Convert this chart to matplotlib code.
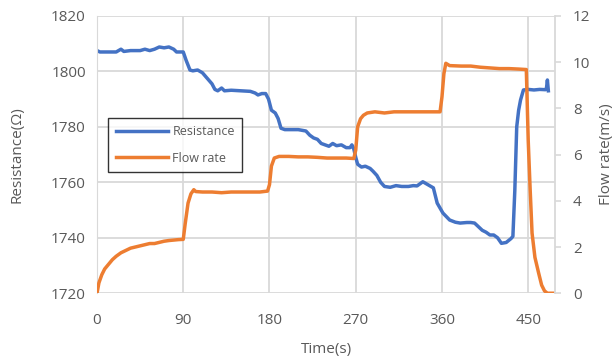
import numpy as np
import matplotlib.pyplot as plt

plt.rcParams['font.family'] = ['Open Sans', 'DejaVu Sans']

# Resistance (Ohm) vs time (s)
t_res = [0, 3, 10, 20, 25, 28, 35, 45, 50, 55, 60, 65, 70, 75, 80, 83, 90, 93, 97,
         100, 105, 110, 115, 120, 123, 126, 130, 133, 140, 150, 160, 165, 168, 172,
         176, 179, 182, 186, 189, 192, 196, 200, 210, 218, 222, 226, 230, 234, 238,
         242, 246, 250, 255, 260, 264, 266, 268, 270, 272, 276, 280, 285, 288, 292,
         296, 300, 306, 312, 318, 325, 330, 334, 340, 346, 351, 355, 361, 368, 374,
         379, 386, 390, 394, 398, 402, 406, 410, 414, 418, 422, 427, 432, 434, 436,
         438, 440, 442, 445, 450, 456, 462, 468, 469, 470, 471]
resistance = [1807.5, 1807, 1807, 1807, 1808, 1807.2, 1807.5, 1807.5, 1808, 1807.5,
              1808, 1808.8, 1808.5, 1808.8, 1808, 1807, 1807, 1804, 1800.5,
              1800.2, 1800.5, 1799.5, 1797.5, 1795.5, 1793.5, 1793, 1794, 1793,
              1793.2, 1793, 1792.8, 1792.2, 1791.5, 1792, 1792, 1790, 1786, 1785,
              1783, 1779.5, 1779, 1779, 1779, 1778.5, 1777, 1776, 1775.5, 1774,
              1773.5, 1773, 1774, 1773.2, 1773.5, 1772.5, 1772.5, 1773.5, 1772,
              1769, 1766.5, 1765.5, 1765.8, 1765, 1764, 1762.5, 1760, 1758.5,
              1758.2, 1758.8, 1758.5, 1758.5, 1758.8, 1758.7, 1760.2, 1759, 1758,
              1752.5, 1748.9, 1746.4, 1745.6, 1745.3, 1745.5, 1745.5, 1745.3,
              1744, 1742.7, 1742, 1741, 1741, 1740, 1738, 1738.3, 1739.7, 1740.5,
              1757, 1780, 1786, 1789.7, 1793.3, 1793.5, 1793.3, 1793.5, 1793.4,
              1793.8, 1796.9, 1793]

# Flow rate (m/s) vs time (s)
t_flow = [0, 2, 5, 8, 12, 16, 20, 25, 30, 35, 40, 45, 50, 55, 60, 65, 70, 75, 80, 85,
          90, 92, 95, 98, 101, 103, 110, 120, 130, 140, 150, 160, 170, 178, 180, 182,
          185, 190, 200, 210, 220, 230, 240, 250, 260, 268, 270, 272, 275, 278, 282,
          290, 300, 310, 320, 330, 340, 350, 358, 360, 362, 364, 368, 380, 390, 400,
          410, 420, 430, 440, 448, 450, 452, 454, 457, 461, 464, 467, 470, 478]
flow = [0, 0.45, 0.8, 1.05, 1.25, 1.45, 1.6, 1.75, 1.85, 1.95, 2.0, 2.05, 2.1, 2.15,
        2.15, 2.2, 2.25, 2.28, 2.3, 2.32, 2.33, 3.0, 3.9, 4.3, 4.48, 4.4, 4.38, 4.38,
        4.35, 4.38, 4.38, 4.38, 4.38, 4.42, 4.7, 5.5, 5.85, 5.92, 5.92, 5.9, 5.9,
        5.88, 5.85, 5.85, 5.85, 5.83, 6.2, 7.2, 7.55, 7.7, 7.8, 7.85, 7.8, 7.85,
        7.85, 7.85, 7.85, 7.85, 7.85, 8.5, 9.5, 9.95, 9.85, 9.83, 9.83, 9.78,
        9.75, 9.72, 9.72, 9.7, 9.68, 6.6, 4.5, 2.6, 1.55, 0.85, 0.35, 0.1, 0, 0]

blue = '#4472C4'
orange = '#ED7D31'
gray = '#595959'
grid = '#D9D9D9'

fig = plt.figure(figsize=(6.14, 3.62), dpi=100)
ax = fig.add_axes([0.158, 0.19, 0.746, 0.766])
ax2 = ax.twinx()

l1, = ax.plot(t_res, resistance, color=blue, lw=2.5, label='Resistance')
l2, = ax2.plot(t_flow, flow, color=orange, lw=2.5, label='Flow rate')

ax.set_xlim(0, 478)
ax.set_ylim(1720, 1820)
ax2.set_ylim(0, 12)
ax.set_xticks(np.arange(0, 451, 90))
ax.set_yticks(np.arange(1720, 1821, 20))
ax2.set_yticks(np.arange(0, 13, 2))

ax.grid(True, color=grid, lw=1.3)
ax.set_axisbelow(True)
for a in (ax, ax2):
    for s in a.spines.values():
        s.set_visible(False)
ax.spines['left'].set_visible(True)
ax.spines['left'].set_color(grid)
ax2.spines['right'].set_visible(True)
ax2.spines['right'].set_color(grid)
ax2.spines['right'].set_linewidth(1.3)

ax.tick_params(axis='x', length=0, labelsize=11, colors=gray, pad=14)
ax.tick_params(axis='y', length=0, labelsize=11, colors=gray, pad=8)
ax2.tick_params(axis='y', length=4, width=1.2, color=grid, labelsize=11,
                labelcolor=gray, pad=9)

ax.set_xlabel('Time(s)', fontsize=11, color=gray, labelpad=10)
ax.set_ylabel('Resistance(Ω)', fontsize=11, color=gray, labelpad=19)
ax2.set_ylabel('Flow rate(m/s)', fontsize=11, color=gray, labelpad=6)

leg = ax.legend(handles=[l1, l2], loc='upper left', bbox_to_anchor=(0.024, 0.632),
                borderaxespad=0, fontsize=9, frameon=True, fancybox=False,
                edgecolor='black', handlelength=4.2, handletextpad=0.35,
                labelspacing=1.05, borderpad=0.6)
leg.get_frame().set_linewidth(1.0)
for txt in leg.get_texts():
    txt.set_color(gray)

fig.savefig('out.png', dpi=100)
